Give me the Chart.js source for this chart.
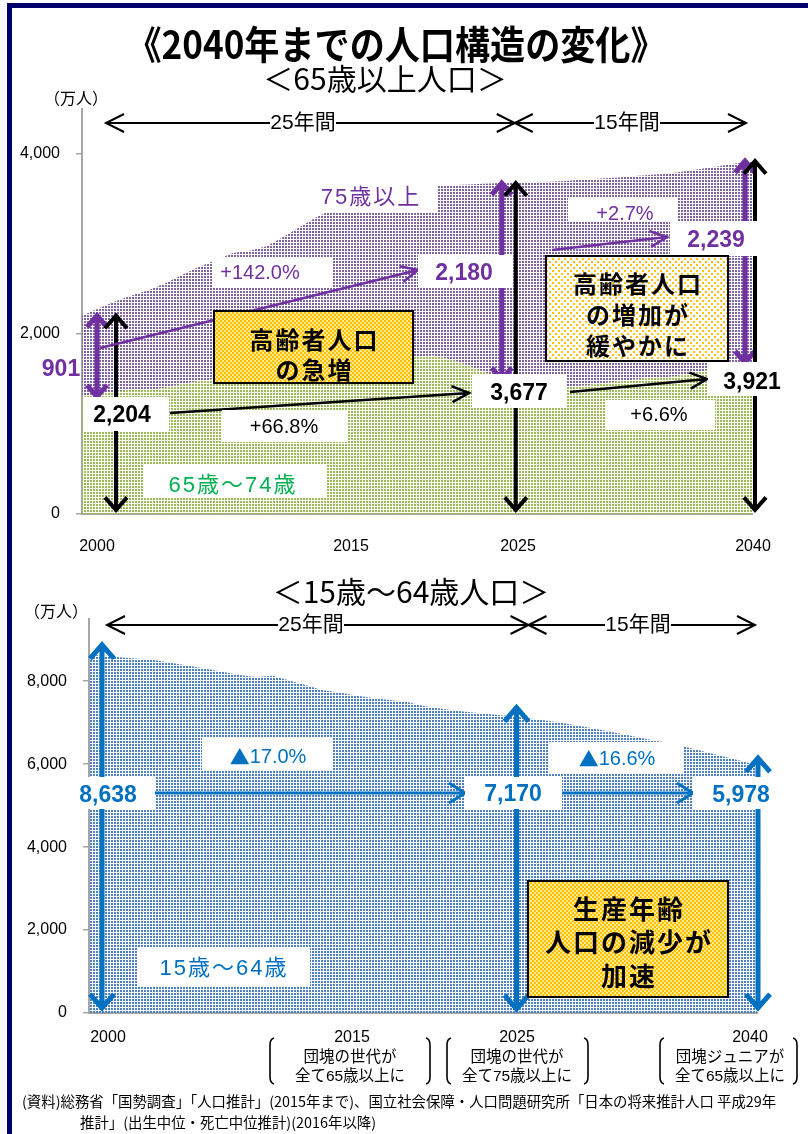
<!DOCTYPE html>
<html lang="ja">
<head>
<meta charset="utf-8">
<title>2040年までの人口構造の変化</title>
<script src="https://cdn.jsdelivr.net/npm/chart.js@4.4.1/dist/chart.umd.min.js"></script>
<style>
  html, body { margin: 0; padding: 0; background: #fff; }
  #page { position: relative; width: 808px; height: 1134px; overflow: hidden; font-family: "Noto Sans CJK JP", sans-serif; }
  #frame { position: absolute; left: 7px; top: 3px; right: -10px; bottom: -10px; border-left: 5px solid #00006a; border-top: 5px solid #00006a; }
  canvas { position: absolute; left: 0; top: 0; }
  .t { position: absolute; white-space: nowrap; line-height: 1; color: #000; }
  .c { transform: translate(-50%, -50%); }
  .title { transform: translate(-50%, -50%) scaleX(0.9); }
</style>
</head>
<body>
<div id="page">
  <canvas id="elderChart" width="808" height="1134"></canvas>
  <canvas id="workChart" width="808" height="1134"></canvas>
  <div id="frame"></div>
  <div class="t title" style="left:396px; top:42px; font-size:39px; font-weight:bold;">《2040年までの人口構造の変化》</div>
  <div class="t c" style="left:385px; top:77px; font-size:30px;">＜65歳以上人口＞</div>
  <div class="t c" style="left:76px; top:97px; font-size:16px;">（万人）</div>
  <div class="t c" style="left:411px; top:590px; font-size:30px;">＜15歳～64歳人口＞</div>
  <div class="t c" style="left:56px; top:610px; font-size:16px;">（万人）</div>
  <div class="t" style="left:22px; top:1094px; font-size:14.4px;">(資料)総務省「国勢調査」「人口推計」(2015年まで)、国立社会保障・人口問題研究所「日本の将来推計人口 平成29年</div>
  <div class="t" style="left:80px; top:1115px; font-size:14.4px;">推計」(出生中位・死亡中位推計)(2016年以降)</div>
</div>
<script>
// population in 10,000s, 2000-2040
const years = [2000, 2001, 2002, 2003, 2004, 2005, 2006, 2007, 2008, 2009,
  2010, 2011, 2012, 2013, 2014, 2015, 2016, 2017, 2018, 2019,
  2020, 2021, 2022, 2023, 2024, 2025, 2026, 2027, 2028, 2029,
  2030, 2031, 2032, 2033, 2034, 2035, 2036, 2037, 2038, 2039, 2040];

const age65to74 = [1303, 1338, 1359, 1377, 1378, 1403, 1444, 1476, 1500, 1530,
  1506, 1504, 1560, 1630, 1708, 1755, 1768, 1767, 1760, 1739,
  1747, 1761, 1716, 1653, 1576, 1497, 1442, 1417, 1405, 1411,
  1428, 1450, 1471, 1495, 1513, 1522, 1544, 1584, 1622, 1657, 1682];

const age75plus = [901, 949, 1004, 1054, 1110, 1164, 1216, 1270, 1322, 1371,
  1419, 1471, 1519, 1560, 1592, 1632, 1691, 1748, 1798, 1849,
  1872, 1880, 1937, 2008, 2094, 2180, 2241, 2271, 2288, 2293,
  2288, 2278, 2268, 2260, 2256, 2260, 2263, 2251, 2243, 2238, 2239];

const age15to64 = [8638, 8614, 8571, 8540, 8508, 8442, 8373, 8301, 8230, 8149,
  8103, 8134, 8018, 7901, 7785, 7728, 7656, 7596, 7545, 7507,
  7406, 7341, 7285, 7244, 7206, 7170, 7125, 7073, 7019, 6953,
  6875, 6798, 6719, 6639, 6556, 6494, 6387, 6288, 6187, 6080, 5978];

// y axis ticks
const elderTicks = [0, 2000, 4000];
const workTicks = [0, 2000, 4000, 6000, 8000];

// years called out under each chart
const markYears = [2000, 2015, 2025, 2040];
const markNotes = [
  [],
  ['団塊の世代が', '全て65歳以上に'],
  ['団塊の世代が', '全て75歳以上に'],
  ['団塊ジュニアが', '全て65歳以上に']
];

const PURPLE = '#7030a0', GREEN = '#00b050', BLUE = '#0070c0', BLACK = '#000';
const NUM = '"Liberation Sans", "Noto Sans CJK JP", sans-serif';
const JP = '"Noto Sans CJK JP", sans-serif';

function fmt(v) { return v.toLocaleString('en-US'); }

// growth as "+x.x%", decline as "▲x.x%"
function pct(from, to) {
  const p = (to / from - 1) * 100;
  return (p >= 0 ? '+' : '▲') + Math.abs(p).toFixed(1) + '%';
}

// small repeating dot tiles for the area fills
function dotPattern(w, h, bg, color, dots) {
  const c = document.createElement('canvas');
  c.width = w; c.height = h;
  const g = c.getContext('2d');
  if (bg) { g.fillStyle = bg; g.fillRect(0, 0, w, h); }
  g.fillStyle = color;
  dots.forEach(([x, y, s]) => g.fillRect(x, y, s, s));
  return g.createPattern(c, 'repeat');
}

const greenDots = dotPattern(3, 3, null, '#9bbb59', [[0, 0, 2]]);
const purpleDots = dotPattern(3, 3, null, '#8064a2', [[0, 0, 2]]);
const blueDots = dotPattern(3, 3, null, '#4f81c2', [[0, 0, 2]]);
const yellowCheck = dotPattern(4, 4, '#ffe98f', '#ffc000', [[0, 0, 2], [2, 2, 2]]);
const yellowDots = dotPattern(6, 6, '#fff', '#ffc000', [[0, 0, 2], [3, 3, 2]]);

// double-headed vertical arrow, tips at y1 (top) and y2 (bottom)
function vArrow(ctx, x, y1, y2, color, lw, hw) {
  const hh = hw * 1.15;
  ctx.save();
  ctx.strokeStyle = color;
  ctx.lineWidth = lw;
  ctx.lineJoin = 'miter';
  ctx.beginPath();
  ctx.moveTo(x, y1 + 2); ctx.lineTo(x, y2 - 2);
  ctx.moveTo(x - hw, y1 + hh); ctx.lineTo(x, y1); ctx.lineTo(x + hw, y1 + hh);
  ctx.moveTo(x - hw, y2 - hh); ctx.lineTo(x, y2); ctx.lineTo(x + hw, y2 - hh);
  ctx.stroke();
  ctx.restore();
}

// straight arrow with an open head at (x2, y2)
function lineArrow(ctx, x1, y1, x2, y2, color, lw, len, hw) {
  const a = Math.atan2(y2 - y1, x2 - x1);
  const bx = x2 - len * Math.cos(a), by = y2 - len * Math.sin(a);
  const nx = -Math.sin(a) * hw, ny = Math.cos(a) * hw;
  ctx.save();
  ctx.strokeStyle = color;
  ctx.lineWidth = lw;
  ctx.lineJoin = 'miter';
  ctx.beginPath();
  ctx.moveTo(x1, y1); ctx.lineTo(x2, y2);
  ctx.moveTo(bx + nx, by + ny); ctx.lineTo(x2, y2); ctx.lineTo(bx - nx, by - ny);
  ctx.stroke();
  ctx.restore();
}

// text centred on (cx, cy), optionally on a white box
function tag(ctx, str, cx, cy, font, color, box, spacing) {
  if (box) {
    ctx.fillStyle = '#fff';
    ctx.fillRect(box[0], box[1], box[2] - box[0], box[3] - box[1]);
  }
  const sp = spacing || 0;
  ctx.font = font;
  ctx.fillStyle = color;
  ctx.textAlign = 'center';
  ctx.textBaseline = 'middle';
  ctx.letterSpacing = sp + 'px';
  ctx.fillText(str, cx + sp / 2, cy);
  ctx.letterSpacing = '0px';
}

// percentage label; a leading ▲ is set in the CJK face so it is full size
function pctTag(ctx, str, cx, cy, size, color, box) {
  if (!str.startsWith('▲')) return tag(ctx, str, cx, cy, size + 'px ' + NUM, color, box);
  ctx.fillStyle = '#fff';
  ctx.fillRect(box[0], box[1], box[2] - box[0], box[3] - box[1]);
  const triFont = size + 'px ' + JP, numFont = size + 'px ' + NUM;
  const rest = str.slice(1);
  ctx.font = triFont;
  const tw = ctx.measureText('▲').width;
  ctx.font = numFont;
  const rw = ctx.measureText(rest).width;
  let x = cx - (tw + rw) / 2;
  ctx.fillStyle = color;
  ctx.textAlign = 'left';
  ctx.textBaseline = 'middle';
  ctx.font = triFont;
  ctx.fillText('▲', x, cy);
  ctx.font = numFont;
  ctx.fillText(rest, x + tw, cy);
}

// "25年間" style span between two years
function spanArrow(ctx, x1, x2, y, label, lx, box) {
  lineArrow(ctx, lx, y, x1, y, BLACK, 2, 18, 9);
  lineArrow(ctx, lx, y, x2, y, BLACK, 2, 18, 9);
  tag(ctx, label, lx, y, '21px ' + NUM, BLACK, box);
}

// framed yellow message box
function callout(ctx, x1, y1, x2, y2, fill, lines, cy0, dy, font) {
  ctx.fillStyle = fill;
  ctx.fillRect(x1, y1, x2 - x1, y2 - y1);
  ctx.strokeStyle = BLACK;
  ctx.lineWidth = 2;
  ctx.strokeRect(x1, y1, x2 - x1, y2 - y1);
  lines.forEach((s, k) => tag(ctx, s, (x1 + x2) / 2, cy0 + k * dy, font, BLACK, null, 2));
}

// tall round bracket
function bracket(ctx, x, y1, y2, dir) {
  ctx.save();
  ctx.strokeStyle = BLACK;
  ctx.lineWidth = 1.6;
  ctx.beginPath();
  ctx.moveTo(x + 4 * dir, y1);
  ctx.quadraticCurveTo(x, y1 + 1, x, y1 + 7);
  ctx.lineTo(x, y2 - 7);
  ctx.quadraticCurveTo(x, y2 - 1, x + 4 * dir, y2);
  ctx.stroke();
  ctx.restore();
}

function drawElderNotes(chart) {
  const { ctx, scales: { x: xs, y: ys } } = chart;
  const i0 = years.indexOf(2000), i1 = years.indexOf(2025), i2 = years.indexOf(2040);
  const total = i => age65to74[i] + age75plus[i];
  const Y = v => ys.getPixelForValue(v);
  const x0 = xs.getPixelForValue(i0), x1 = xs.getPixelForValue(i1), x2 = xs.getPixelForValue(i2);
  ctx.save();

  spanArrow(ctx, x0 + 24, x1 + 14, 123, '25年間', 303, [270, 110, 336, 136]);
  spanArrow(ctx, x1 + 14, x2 - 6, 123, '15年間', 627, [594, 110, 660, 136]);

  // 75+ share and 65+ total at each year
  vArrow(ctx, x0 + 15, Y(total(i0)), Y(age65to74[i0]), PURPLE, 5, 10);
  vArrow(ctx, x0 + 34, Y(total(i0)), Y(0) - 4, BLACK, 4, 11);
  vArrow(ctx, x1 + 1, Y(total(i1)), Y(age65to74[i1]), PURPLE, 5, 10);
  vArrow(ctx, x1 + 15, Y(total(i1)), Y(0) - 4, BLACK, 4, 11);
  vArrow(ctx, x2 - 7, Y(total(i2)), Y(age65to74[i2]), PURPLE, 5, 10);
  vArrow(ctx, x2 + 3, Y(total(i2)), Y(0) - 4, BLACK, 4, 11);

  lineArrow(ctx, 100, 348, 418, 270, PURPLE, 2.5, 17, 8);
  lineArrow(ctx, 170, 413, 469, 393, BLACK, 2.5, 17, 8);
  lineArrow(ctx, 552, 250, 667, 237, PURPLE, 2.5, 17, 8);
  lineArrow(ctx, 570, 392, 707, 379, BLACK, 2.5, 17, 8);

  const big = 'bold 23px ' + NUM, lab = '22px ' + NUM;
  tag(ctx, fmt(age75plus[i0]), 61, 370, big, PURPLE);
  tag(ctx, fmt(total(i0)), 122, 416, big, BLACK, [83, 397, 169, 431]);
  pctTag(ctx, pct(age75plus[i0], age75plus[i1]), 260, 273, 20, PURPLE, [213, 257, 332, 288]);
  tag(ctx, fmt(age75plus[i1]), 464, 274, big, PURPLE, [418, 255, 512, 288]);
  tag(ctx, '75歳以上', 370, 198, lab, PURPLE, [305, 178, 438, 213], 2);
  tag(ctx, fmt(total(i1)), 519, 394, big, BLACK, [472, 374, 567, 408]);
  pctTag(ctx, pct(total(i0), total(i1)), 284, 427, 20, BLACK, [222, 410, 348, 442]);
  tag(ctx, '65歳～74歳', 232, 486, lab, GREEN, [143, 465, 327, 498], 2);
  pctTag(ctx, pct(age75plus[i1], age75plus[i2]), 625, 214, 20, PURPLE, [568, 197, 678, 222]);
  tag(ctx, fmt(age75plus[i2]), 716, 241, big, PURPLE, [670, 221, 762, 256]);
  tag(ctx, fmt(total(i2)), 752, 383, big, BLACK, [708, 362, 792, 396]);
  pctTag(ctx, pct(total(i1), total(i2)), 659, 415, 20, BLACK, [605, 400, 715, 430]);

  callout(ctx, 214, 311, 413, 383, yellowCheck, ['高齢者人口', 'の急増'], 340, 30, 'bold 24px ' + JP);
  callout(ctx, 546, 256, 728, 361, yellowDots, ['高齢者人口', 'の増加が', '緩やかに'], 284, 31, 'bold 24px ' + JP);

  const labelX = [97, 351, 518, 753];
  markYears.forEach((yr, k) => tag(ctx, String(yr), labelX[k], 547, '16px ' + NUM, BLACK));
  ctx.restore();
}

function drawWorkNotes(chart) {
  const { ctx, scales: { x: xs, y: ys } } = chart;
  const i0 = years.indexOf(2000), i1 = years.indexOf(2025), i2 = years.indexOf(2040);
  const Y = v => ys.getPixelForValue(v);
  const x0 = xs.getPixelForValue(i0), x1 = xs.getPixelForValue(i1), x2 = xs.getPixelForValue(i2);
  ctx.save();

  spanArrow(ctx, x0 + 18, x1 + 22, 625, '25年間', 311, [278, 612, 344, 638]);
  spanArrow(ctx, x1 + 22, x2 - 2, 625, '15年間', 638, [605, 612, 671, 638]);

  vArrow(ctx, x0 + 13, Y(age15to64[i0]) - 10, Y(0) - 5, BLUE, 5, 12);
  vArrow(ctx, x1 + 10, Y(age15to64[i1]) - 8, Y(0) - 4, BLUE, 5, 12);
  vArrow(ctx, x2 + 1, Y(age15to64[i2]) - 7, Y(0) - 5, BLUE, 5, 12);

  lineArrow(ctx, 155, 793, 465, 793, BLUE, 3, 16, 10);
  lineArrow(ctx, 562, 793, 693, 793, BLUE, 3, 16, 10);

  const big = 'bold 23px ' + NUM;
  tag(ctx, fmt(age15to64[i0]), 108, 796, big, BLUE, [77, 777, 155, 809]);
  pctTag(ctx, pct(age15to64[i0], age15to64[i1]), 268, 757, 20, BLUE, [202, 738, 333, 770]);
  tag(ctx, fmt(age15to64[i1]), 513, 795, big, BLUE, [465, 777, 562, 809]);
  pctTag(ctx, pct(age15to64[i1], age15to64[i2]), 617, 759, 20, BLUE, [548, 742, 683, 774]);
  tag(ctx, fmt(age15to64[i2]), 741, 796, big, BLUE, [693, 777, 775, 809]);
  tag(ctx, '15歳～64歳', 223, 969, '22px ' + NUM, BLUE, [137, 948, 310, 986], 2);

  callout(ctx, 528, 881, 728, 997, yellowCheck, ['生産年齢', '人口の減少が', '加速'], 909, 33.5, 'bold 26px ' + JP);

  // year captions with their notes
  const labelX = [108, 352, 517, 750];
  const noteX = [0, 350, 517, 730];
  const brackets = [null, [270, 430], [447, 588], [660, 797]];
  markYears.forEach((yr, k) => {
    tag(ctx, String(yr), labelX[k], 1038, '16px ' + NUM, BLACK);
    markNotes[k].forEach((s, j) => tag(ctx, s, noteX[k], 1058 + j * 19, '15.5px ' + NUM, BLACK));
    if (brackets[k]) {
      bracket(ctx, brackets[k][0], 1038, 1084, 1);
      bracket(ctx, brackets[k][1], 1038, 1084, -1);
    }
  });
  ctx.restore();
}

const axisGray = '#a6a6a6';

function yAxis(max, width, tickValues) {
  return {
    stacked: true,
    min: 0,
    max: max,
    grid: { drawOnChartArea: false, drawTicks: true, tickLength: 6, color: axisGray, lineWidth: 1.5 },
    border: { color: axisGray, width: 2 },
    ticks: {
      autoSkip: false,
      padding: 16,
      color: '#000',
      font: { family: 'Liberation Sans', size: 16 },
      callback: v => fmt(v)
    },
    afterBuildTicks: s => { s.ticks = tickValues.map(v => ({ value: v })); },
    afterFit: s => { s.width = width; }
  };
}

function xAxis(height) {
  return {
    offset: false,
    grid: { display: false },
    border: { color: axisGray, width: 2 },
    ticks: { display: false },
    afterFit: s => { s.height = height; }
  };
}

const baseOptions = {
  responsive: false,
  animation: false,
  events: [],
  plugins: { legend: { display: false }, tooltip: { enabled: false } },
  elements: { point: { radius: 0 }, line: { borderWidth: 0, tension: 0 } }
};

new Chart(document.getElementById('elderChart'), {
  type: 'line',
  data: {
    labels: years,
    datasets: [
      { label: '65歳～74歳', data: age65to74, fill: 'origin', backgroundColor: greenDots, borderColor: 'transparent' },
      { label: '75歳以上', data: age75plus, fill: '-1', backgroundColor: purpleDots, borderColor: 'transparent' }
    ]
  },
  options: Object.assign({}, baseOptions, {
    layout: { padding: { top: 109, right: 56, bottom: 600, left: 0 } },
    scales: { x: xAxis(20), y: yAxis(4500, 82, elderTicks) }
  }),
  plugins: [{ id: 'elderNotes', afterDraw: drawElderNotes }]
});

new Chart(document.getElementById('workChart'), {
  type: 'line',
  data: {
    labels: years,
    datasets: [
      { label: '15歳～64歳', data: age15to64, fill: 'origin', backgroundColor: blueDots, borderColor: 'transparent' }
    ]
  },
  options: Object.assign({}, baseOptions, {
    layout: { padding: { top: 619, right: 51, bottom: 100, left: 0 } },
    scales: { x: xAxis(21), y: yAxis(9500, 89, workTicks) }
  }),
  plugins: [{ id: 'workNotes', afterDraw: drawWorkNotes }]
});
</script>
</body>
</html>
